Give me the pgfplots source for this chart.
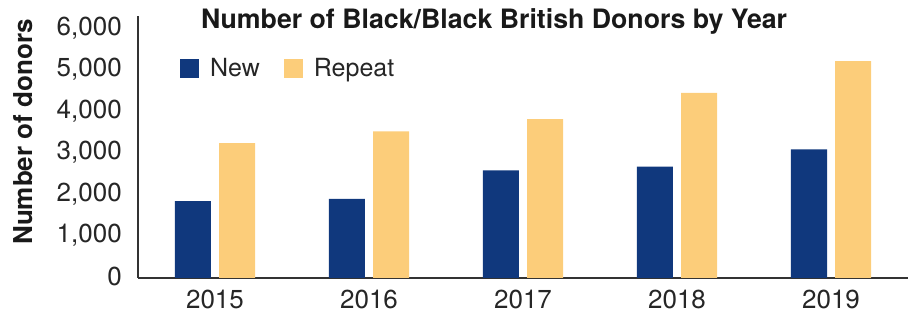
\documentclass[border=0pt]{standalone}
\usepackage{pgfplots}
\pgfplotsset{compat=1.18}
\usepackage{fontspec}
\setmainfont{TeX Gyre Heros}
\definecolor{newblue}{RGB}{16,56,125}
\definecolor{repyellow}{RGB}{252,205,122}
\definecolor{axgray}{RGB}{51,51,51}
\begin{document}
\begin{tikzpicture}
\begin{axis}[
  name=ax,
  scale only axis, width=770pt, height=262pt,
  xmin=-0.5, xmax=4.5, ymin=0, ymax=6330,
  clip=false,
  axis x line=bottom, axis y line=left,
  axis line style={-, axgray, line width=1.6pt},
  xtick={0,1,2,3,4}, xticklabels={2015,2016,2017,2018,2019},
  ytick={0,1000,...,6000},
  major tick length=0pt, tick style={draw=none},
  /pgf/number format/1000 sep={,},
  /pgf/number format/assume math mode=true,
  ticklabel style={font=\fontsize{26}{30}\selectfont, text=black!85},
  yticklabel style={anchor=east, inner sep=0pt, xshift=-16pt, yshift=1.5pt},
  xticklabel style={anchor=north, inner sep=0pt, yshift=-12pt},
  ylabel={Number of donors},
  ylabel style={at={(axis description cs:-0.1494,0.557)}, anchor=center, font=\bfseries\fontsize{26}{30}\selectfont, text=black!90},
  legend columns=2,
  legend style={at={(axis description cs:0.0545,0.80)}, anchor=west, draw=none, fill=none, inner sep=0pt,
    font=\fontsize{25}{30}\selectfont, text=black!85,
    nodes={inner sep=0pt},
    /tikz/every odd column/.append style={column sep=11pt},
    /tikz/every even column/.append style={column sep=24pt}},
  legend image code/.code={\fill[#1] (0pt,-9.5pt) rectangle (19pt,9.5pt);},
]
\addplot[ybar, bar width=0.234, bar shift=-0.143, fill=newblue, draw=none]
  coordinates {(0,1860) (1,1910) (2,2600) (3,2690) (4,3110)};
\addplot[ybar, bar width=0.234, bar shift=0.143, fill=repyellow, draw=none]
  coordinates {(0,3260) (1,3540) (2,3840) (3,4470) (4,5240)};
\legend{New, Repeat}
\node[anchor=base, yshift=-13pt, font=\bfseries\fontsize{26.7}{30}\selectfont, text=black!90]
  at (rel axis cs:0.4625,1) {Number of Black/Black British Donors by Year};
\coordinate (bl) at (rel axis cs:0,0);
\coordinate (tr) at (rel axis cs:1,1);
\end{axis}
\pgfresetboundingbox
\useasboundingbox ([shift={(-138pt,-36pt)}]bl) rectangle ([shift={(2pt,16pt)}]tr);
\end{tikzpicture}
\end{document}
